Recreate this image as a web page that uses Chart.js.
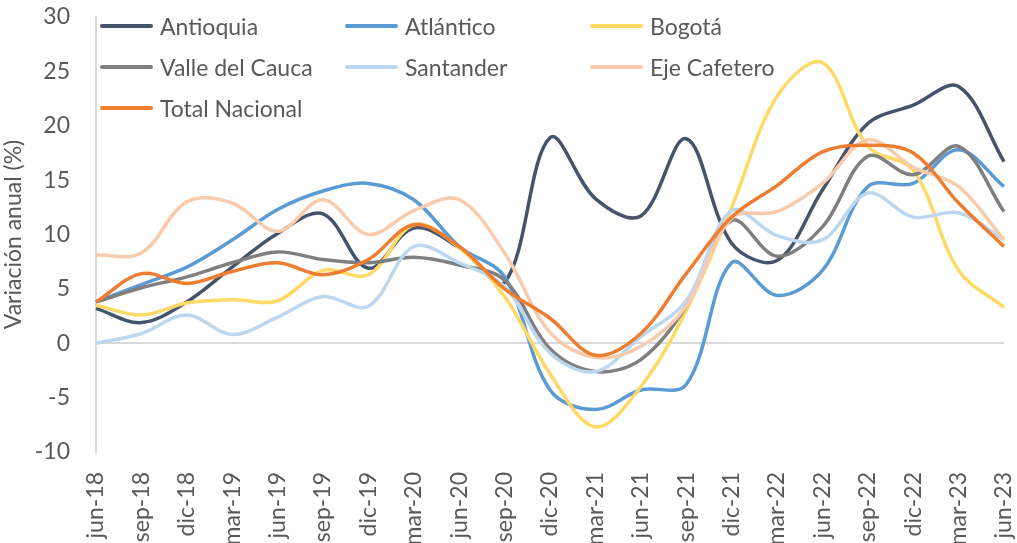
<!DOCTYPE html>
<html lang="es">
<head>
<meta charset="utf-8">
<title>Variación anual por región</title>
<script src="https://cdn.jsdelivr.net/npm/chart.js@4/dist/chart.umd.min.js"></script>
<style>
    html, body { margin: 0; padding: 0; background: #fff; }
    #wrap { position: relative; width: 1017px; height: 543px; }
    #legend {
        position: absolute; left: 100px; top: 5px;
        display: grid; grid-template-columns: 245px 245px 245px; grid-auto-rows: 41px;
        font-family: Lato, sans-serif; font-size: 23px; color: #595959;
    }
    #legend div { display: flex; align-items: center; white-space: nowrap; }
    #legend span.swatch { display: inline-block; width: 53px; height: 4px; margin-right: 7px; border-radius: 2px; }
</style>
</head>
<body>
<div id="wrap">
    <canvas id="variacion_chart" width="1017" height="543"></canvas>
    <div id="legend"></div>
</div>
<script>
// trimestres, de jun-18 a jun-23
const labels = ['jun-18', 'sep-18', 'dic-18', 'mar-19', 'jun-19', 'sep-19', 'dic-19', 'mar-20', 'jun-20',
    'sep-20', 'dic-20', 'mar-21', 'jun-21', 'sep-21', 'dic-21', 'mar-22', 'jun-22', 'sep-22', 'dic-22',
    'mar-23', 'jun-23'];

// variación anual (%) por región
const antioquia = [3.2, 1.9, 3.8, 7.0, 10.1, 11.9, 6.9, 10.6, 8.8, 5.6, 18.9, 13.3, 11.7, 18.8, 9.2, 7.6, 14.1, 20.2, 21.9, 23.6, 16.7];
const atlantico = [3.8, 5.4, 7.0, 9.5, 12.3, 14.0, 14.7, 13.2, 8.9, 6.1, -4.3, -6.1, -4.3, -3.8, 7.4, 4.4, 6.7, 14.4, 14.7, 17.8, 14.4];
const bogota = [3.5, 2.6, 3.7, 4.0, 3.9, 6.7, 6.3, 10.9, 8.8, 4.3, -2.8, -7.7, -4.0, 3.0, 12.5, 22.7, 25.8, 18.1, 15.9, 6.7, 3.3];
const valle_del_cauca = [3.8, 5.1, 6.1, 7.4, 8.4, 7.7, 7.4, 7.9, 7.2, 5.8, -0.5, -2.6, -1.5, 3.4, 11.3, 8.0, 10.7, 17.2, 15.5, 18.1, 12.1];
const santander = [0.0, 0.9, 2.6, 0.8, 2.4, 4.3, 3.4, 8.9, 7.4, 5.2, -0.9, -2.6, 0.6, 3.9, 12.2, 9.9, 9.5, 13.8, 11.6, 12.0, 9.5];
const eje_cafetero = [8.1, 8.3, 13.0, 12.9, 10.3, 13.2, 10.0, 12.2, 13.2, 8.3, 1.0, -1.3, -0.3, 3.4, 11.5, 12.1, 14.7, 18.7, 16.2, 14.4, 9.5];
const total_nacional = [3.8, 6.4, 5.5, 6.6, 7.4, 6.3, 7.7, 10.9, 8.9, 5.0, 2.3, -1.1, 0.9, 6.4, 11.6, 14.5, 17.6, 18.2, 17.5, 12.9, 8.9];

const series_names = ['Antioquia', 'Atlántico', 'Bogotá', 'Valle del Cauca', 'Santander', 'Eje Cafetero', 'Total Nacional'];
const series_values = [antioquia, atlantico, bogota, valle_del_cauca, santander, eje_cafetero, total_nacional];
const series_colors = ['#44546A', '#5B9BD5', '#FFD966', '#7F7F7F', '#BDD7EE', '#F8CBAD', '#ED7D31'];

const text_color = '#595959';
const axis_color = '#D9D9D9';
const font_family = 'Lato, sans-serif';

// la última serie queda encima de las demás
const datasets = series_names.map((name, i) => ({
    label: name,
    data: series_values[i],
    borderColor: series_colors[i],
    backgroundColor: series_colors[i],
    borderWidth: 3.5,
    pointRadius: 0,
    tension: 0.35,
    fill: false,
    order: series_names.length - i
}));

const ctx = document.getElementById('variacion_chart').getContext('2d');
const chart = new Chart(ctx, {
    type: 'line',
    data: { labels: labels, datasets: datasets },
    options: {
        responsive: false,
        animation: false,
        layout: { padding: { top: 17, right: 13, left: 0, bottom: 0 } },
        plugins: { legend: { display: false }, tooltip: { enabled: false } },
        scales: {
            x: {
                offset: false,
                grid: { display: false, drawTicks: false },
                border: { display: false },
                ticks: {
                    color: text_color, font: { family: font_family, size: 23 },
                    minRotation: 90, maxRotation: 90, autoSkip: false, padding: 20
                },
                afterFit: (scale) => {
                    scale.height = 91;
                    scale.paddingLeft = 0;
                    scale.paddingRight = 0;
                }
            },
            y: {
                min: -10, max: 30,
                ticks: { stepSize: 5, color: text_color, font: { family: font_family, size: 23 }, padding: 26 },
                grid: {
                    drawTicks: false,
                    lineWidth: 2,
                    color: (c) => (c.tick && c.tick.value === 0 ? axis_color : 'transparent')
                },
                border: { display: true, color: axis_color, width: 2 },
                title: {
                    display: true, text: 'Variación anual (%)', color: text_color,
                    font: { family: font_family, size: 23 }, padding: { top: 0, bottom: 0 }
                },
                afterFit: (scale) => {
                    scale.width = 96;
                    scale.paddingTop = 0;
                    scale.paddingBottom = 0;
                }
            }
        }
    }
});

// leyenda en tres columnas sobre el área del gráfico
const legend_html = [];
chart.data.datasets.forEach((ds) => {
    legend_html.push('<div><span class="swatch" style="background-color:' + ds.borderColor + '"></span>');
    legend_html.push('<span class="legend_label">' + ds.label + '</span></div>');
});
document.getElementById('legend').innerHTML = legend_html.join('');
</script>
</body>
</html>
